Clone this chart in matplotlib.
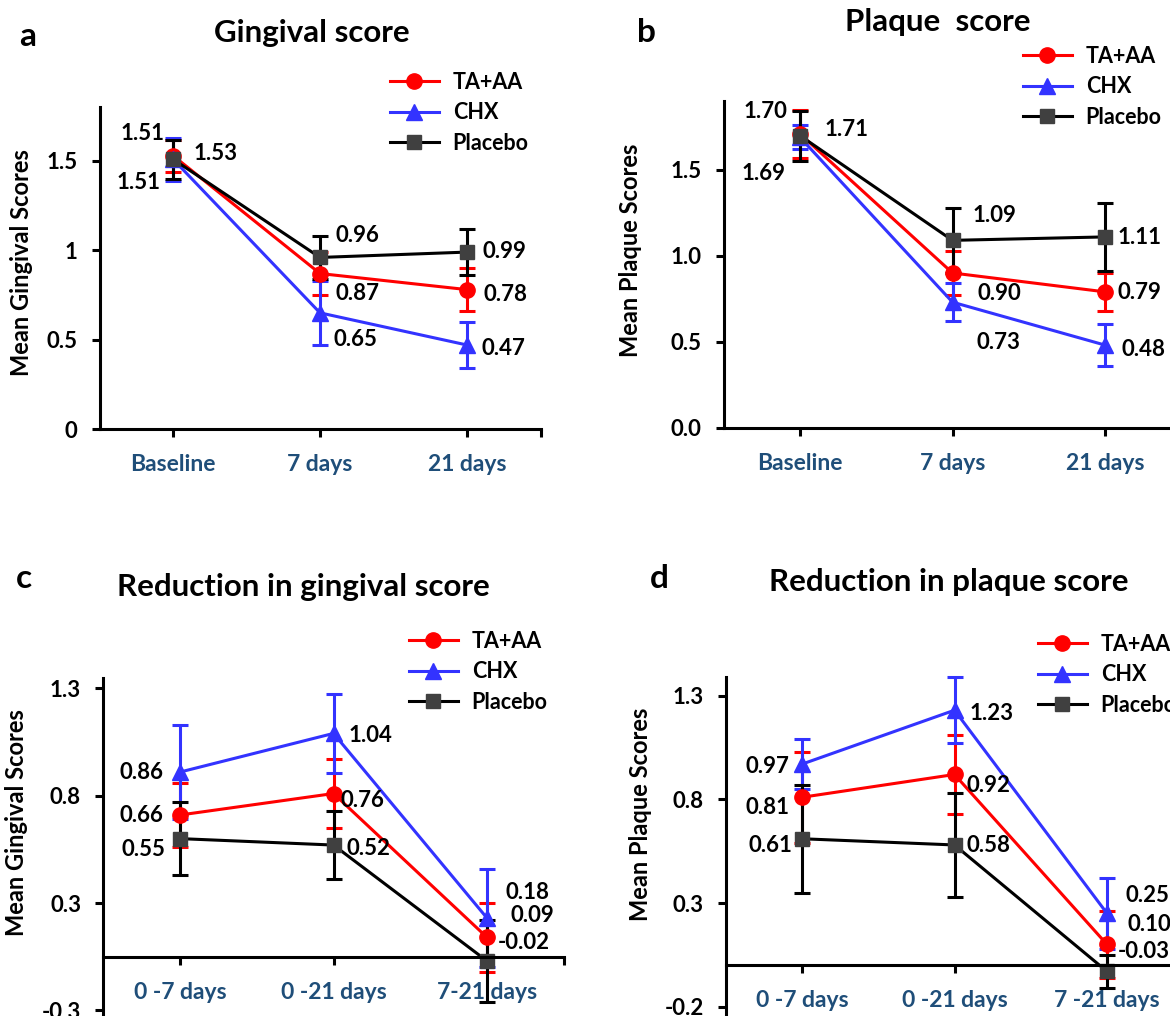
import matplotlib.pyplot as plt
from matplotlib.lines import Line2D

plt.rcParams['font.family'] = ['Lato', 'DejaVu Sans']
plt.rcParams['font.weight'] = 'bold'

W, H = 1170, 1016

series_names = ['TA+AA', 'CHX', 'Placebo']

# a: gingival score
time_labels = ['Baseline', '7 days', '21 days']
ging_ta = [1.53, 0.87, 0.78]
ging_ta_err = [0.09, 0.12, 0.12]
ging_chx = [1.51, 0.65, 0.47]
ging_chx_err = [0.12, 0.18, 0.13]
ging_pl = [1.51, 0.96, 0.99]
ging_pl_err = [0.11, 0.12, 0.13]

# b: plaque score
plaq_ta = [1.71, 0.90, 0.79]
plaq_ta_err = [0.14, 0.13, 0.11]
plaq_chx = [1.69, 0.73, 0.48]
plaq_chx_err = [0.07, 0.11, 0.12]
plaq_pl = [1.70, 1.09, 1.11]
plaq_pl_err = [0.145, 0.19, 0.20]

# c: reduction in gingival score
period_labels_c = ['0 -7 days', '0 -21 days', '7-21 days']
red_ging_ta = [0.66, 0.76, 0.09]
red_ging_ta_err = [0.15, 0.16, 0.16]
red_ging_chx = [0.86, 1.04, 0.18]
red_ging_chx_err = [0.22, 0.185, 0.23]
red_ging_pl = [0.55, 0.52, -0.02]
red_ging_pl_err = [0.17, 0.16, 0.19]

# d: reduction in plaque score
period_labels_d = ['0 -7 days', '0 -21 days', '7 -21 days']
red_plaq_ta = [0.81, 0.92, 0.10]
red_plaq_ta_err = [0.22, 0.19, 0.16]
red_plaq_chx = [0.97, 1.23, 0.25]
red_plaq_chx_err = [0.12, 0.16, 0.17]
red_plaq_pl = [0.61, 0.58, -0.03]
red_plaq_pl_err = [0.26, 0.25, 0.08]

styles = [
    dict(color='#FF0000', marker='o', ms=11, mfc='#FF0000', mec='#FF0000'),
    dict(color='#3333FF', marker='^', ms=11, mfc='#3333FF', mec='#3333FF'),
    dict(color='#000000', marker='s', ms=10, mfc='#404040', mec='#404040'),
]
xcolor = '#1F4E79'

fig = plt.figure(figsize=(W / 100, H / 100), dpi=100)


def fx(x):
    return x / W


def fy(y):
    return 1 - y / H


def panel(x0, dx, y0, dy, ylim, cats, data, errs, yticks, yticklabels,
          offsets, zero_axis=False):
    xlim = (-0.5, 2.5)
    left = x0 + xlim[0] * dx
    right = x0 + xlim[1] * dx
    top = y0 - ylim[1] * dy
    bottom = y0 - ylim[0] * dy
    ax = fig.add_axes([fx(left), fy(bottom), (right - left) / W, (bottom - top) / H])
    ax.patch.set_alpha(0)
    if zero_axis:
        ax.spines['bottom'].set_position(('data', 0))
    xs = range(len(cats))
    for vals, e, st in zip(data, errs, styles):
        ax.errorbar(xs, vals, yerr=e, lw=2.2, elinewidth=2.2, capsize=6,
                    capthick=2.2, clip_on=False, **st)
    for vals, offs in zip(data, offsets):
        for i, (v, o) in enumerate(zip(vals, offs)):
            ax.annotate(f'{v:.2f}', (i, v), xytext=o, textcoords='offset pixels',
                        ha='center', va='center', fontsize=16, fontweight='bold',
                        annotation_clip=False)
    ax.set_xlim(*xlim)
    ax.set_ylim(*ylim)
    ax.set_xticks(list(xs))
    ax.set_xticks([xlim[1]], minor=True)
    ax.set_xticklabels(cats, color=xcolor, fontsize=16.5, fontweight='bold')
    ax.set_yticks(yticks)
    ax.set_yticklabels(yticklabels, fontsize=16, fontweight='bold')
    for s in ['top', 'right']:
        ax.spines[s].set_visible(False)
    for s in ['left', 'bottom']:
        ax.spines[s].set_linewidth(2.2)
    ax.tick_params(axis='both', which='both', direction='out', length=6, width=2.2)
    ax.tick_params(axis='x', pad=12)
    ax.tick_params(axis='y', pad=10)
    return ax


def legend(ax, x, y):
    handles = [Line2D([], [], lw=2.2, **st) for st in styles]
    ax.legend(handles, series_names, loc='upper left', bbox_to_anchor=(fx(x), fy(y)),
              bbox_transform=fig.transFigure, frameon=False,
              handlelength=2.26, handletextpad=0.65, labelspacing=0.43, borderpad=0,
              borderaxespad=0, prop=dict(weight='bold', size=15.5))


axa = panel(173, 147, 429, 178.7, (0, 1.8), time_labels,
            [ging_ta, ging_chx, ging_pl], [ging_ta_err, ging_chx_err, ging_pl_err],
            [0, 0.5, 1, 1.5], ['0', '0.5', '1', '1.5'],
            [[(43, 2), (38, -20), (39, -5)],
             [(-30, 26), (35, -27), (36, -3)],
             [(-34, -23), (37, 22), (37, 1)]])
legend(axa, 390, 72)

axb = panel(800, 152.5, 427.5, 171.7, (0, 1.9), time_labels,
            [plaq_ta, plaq_chx, plaq_pl], [plaq_ta_err, plaq_chx_err, plaq_pl_err],
            [0, 0.5, 1.0, 1.5], ['0.0', '0.5', '1.0', '1.5'],
            [[(47, 4), (47, -21), (34, -1)],
             [(-36, -36), (46, -40), (39, -4)],
             [(-35, 24), (42, 25), (35, -1)]])
legend(axb, 1023, 46)

axc = panel(180, 153.5, 956.7, 214.7, (-0.28, 1.30), period_labels_c,
            [red_ging_ta, red_ging_chx, red_ging_pl],
            [red_ging_ta_err, red_ging_chx_err, red_ging_pl_err],
            [-0.25, 0.25, 0.75, 1.25], ['-0.3', '0.3', '0.8', '1.3'],
            [[(-39, -1), (29, -7), (45, 22)],
             [(-39, 0), (37, -2), (41, 26)],
             [(-37, -11), (35, -3), (37, 18)]], zero_axis=True)
legend(axc, 409, 631)

axd = panel(802, 152.5, 965.2, 207.3, (-0.245, 1.39), period_labels_d,
            [red_plaq_ta, red_plaq_chx, red_plaq_pl],
            [red_plaq_ta_err, red_plaq_chx_err, red_plaq_pl_err],
            [-0.2, 0.3, 0.8, 1.3], ['-0.2', '0.3', '0.8', '1.3'],
            [[(-34, -10), (34, -11), (42, 20)],
             [(-35, -2), (37, -3), (40, 18)],
             [(-32, -7), (34, -1), (37, 20)]], zero_axis=True)
legend(axd, 1038, 634)

# titles, panel letters, y labels
titles = [('Gingival score', 312, 33), ('Plaque  score', 938, 22),
          ('Reduction in gingival score', 303, 587), ('Reduction in plaque score', 949, 582)]
for t, x, y in titles:
    fig.text(fx(x), fy(y), t, ha='center', va='center', fontsize=22.5, fontweight='bold')

letters = [('a', 28, 37), ('b', 646, 32), ('c', 24, 578), ('d', 659, 578)]
for t, x, y in letters:
    fig.text(fx(x), fy(y), t, ha='center', va='center', fontsize=24, fontweight='bold')

ylabels = [('Mean Gingival Scores', 22, 263), ('Mean Plaque Scores', 631, 250),
           ('Mean Gingival Scores', 17, 823), ('Mean Plaque Scores', 640, 814)]
for t, x, y in ylabels:
    fig.text(fx(x), fy(y), t, ha='center', va='center', rotation=90,
             fontsize=17, fontweight='bold')

fig.savefig('out.png', dpi=100)
